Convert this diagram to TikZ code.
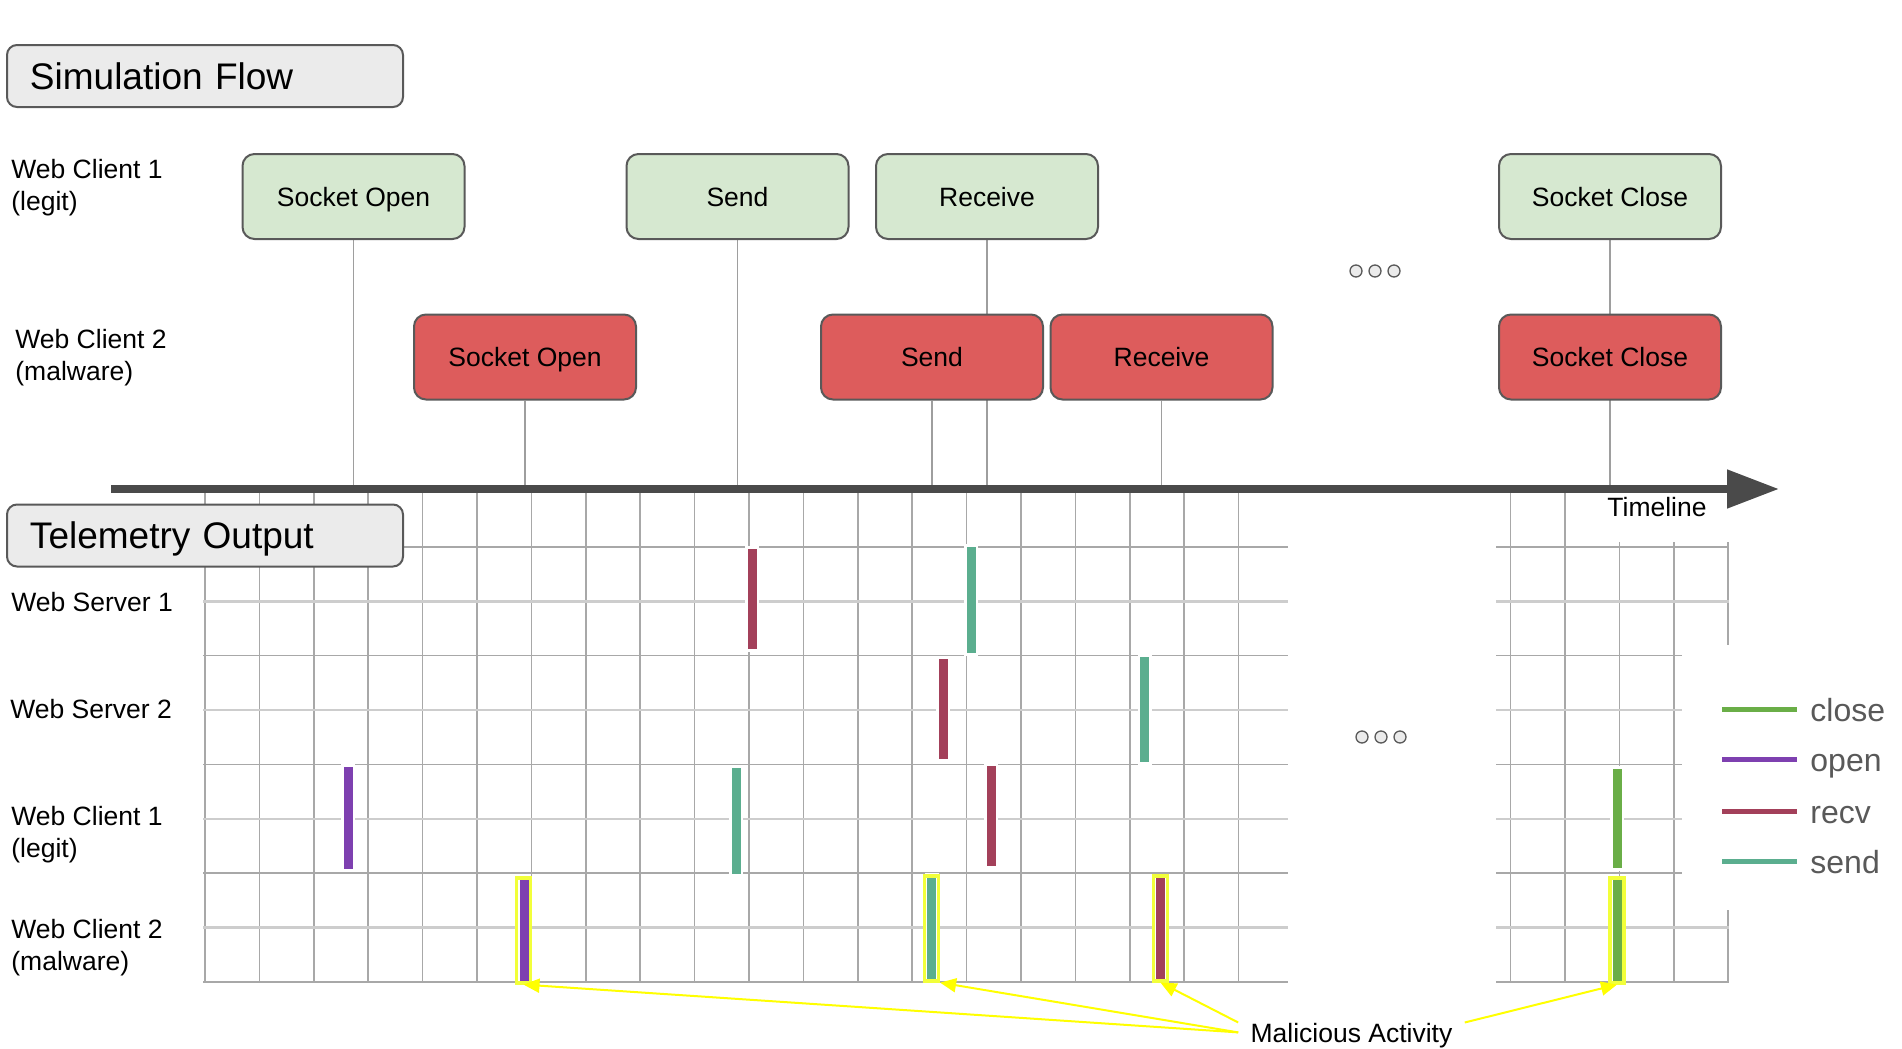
\documentclass[tikz,border=0pt]{standalone}
\usepackage{fontspec}
\setmainfont{Liberation Sans}
\usetikzlibrary{arrows.meta,backgrounds}

\definecolor{boxgreen}{HTML}{D6E8D0}
\definecolor{boxred}{HTML}{DD5C5C}
\definecolor{boxgray}{HTML}{EBEBEB}
\definecolor{edgegray}{HTML}{595959}
\definecolor{linegray}{HTML}{9E9E9E}
\definecolor{gridgray}{HTML}{A8A8A8}
\definecolor{gridlight}{HTML}{CDCDCD}
\definecolor{axisgray}{HTML}{4A4A4A}
\definecolor{evclose}{HTML}{6AAE47}
\definecolor{evopen}{HTML}{7E40B0}
\definecolor{evrecv}{HTML}{A3405A}
\definecolor{evsend}{HTML}{5BAE8F}
\definecolor{hlyellow}{HTML}{F2FF3A}
\definecolor{arrowyellow}{HTML}{FFFF00}

\tikzset{
  flowbox/.style={draw=edgegray, line width=1pt, rounded corners=6pt, minimum width=111pt,
    minimum height=42.5pt, inner sep=0pt, text depth=0pt, font=\fontsize{13.25}{16}\selectfont},
  legitbox/.style={flowbox, fill=boxgreen},
  malbox/.style={flowbox, fill=boxred},
  titlebox/.style={draw=edgegray, line width=1pt, rounded corners=5pt, fill=boxgray, anchor=west,
    text width=175pt, align=left, inner xsep=11.5pt, minimum height=31pt, text depth=0pt,
    font=\fontsize{18.5}{22}\selectfont},
  rowlabel/.style={anchor=base west, align=left, inner sep=0pt, font=\fontsize{13.25}{16}\selectfont},
  flowline/.style={draw=linegray, line width=0.75pt},
  gridline/.style={draw=gridgray, line width=0.75pt},
  gridmid/.style={draw=gridlight, line width=1.2pt},
  highlight/.style={draw=hlyellow, line width=1.6pt, minimum width=7pt, minimum height=52.5pt, inner sep=0pt},
  malarrow/.style={draw=arrowyellow, line width=1pt, -{Triangle[length=8pt,width=7pt]}},
  legendtext/.style={anchor=base west, inner sep=0pt, text=edgegray, font=\fontsize{16}{19}\selectfont},
  dots/.style={draw=edgegray, fill=boxgray, line width=0.65pt}
}

\begin{document}
\begin{tikzpicture}[x=0.5pt, y=-0.5pt]
\useasboundingbox (0,0) rectangle (1902,1049);

% simulation flow
\node[titlebox] (simflow) at (6,76) {Simulation Flow};
\node[rowlabel] (flowc1) at (11,210.5) {Web Client 1\\(legit)};
\node[rowlabel] (flowc2) at (15,380) {Web Client 2\\(malware)};

\node[legitbox] (c1open) at (353.5,196.5) {Socket Open};
\node[legitbox] (c1send) at (737.5,196.5) {Send};
\node[legitbox] (c1recv) at (987,196.5) {Receive};
\node[legitbox] (c1close) at (1610,196.5) {Socket Close};
\node[malbox] (c2open) at (525,357) {Socket Open};
\node[malbox] (c2send) at (932,357) {Send};
\node[malbox] (c2recv) at (1161.5,357) {Receive};
\node[malbox] (c2close) at (1610,357) {Socket Close};

\foreach \x in {1356,1375,1394}
  \draw[dots] (\x,271) circle[radius=3pt];

% telemetry grid
\foreach \k in {0,...,19}
  \draw[gridline] ({205+54.4*\k},493) -- ({205+54.4*\k},982);
\foreach \k in {24,25}
  \draw[gridline] ({205+54.4*\k},493) -- ({205+54.4*\k},982);
\foreach \k in {26,27}
  \draw[gridline] ({205+54.4*\k},542) -- ({205+54.4*\k},982);
\draw[gridline] (1728,542) -- (1728,645);
\draw[gridline] (1728,910) -- (1728,982);
\foreach \j/\e/\s in {0/1729/gridline, 1/1729/gridmid, 2/1682/gridline, 3/1682/gridmid, 4/1682/gridline,
    5/1682/gridmid, 6/1682/gridline, 7/1729/gridmid, 8/1729/gridline} {
  \draw[\s] (203,{547+54.35*\j}) -- (1288,{547+54.35*\j});
  \draw[\s] (1496,{547+54.35*\j}) -- (\e,{547+54.35*\j});
}

% events
\foreach \x/\ya/\yb/\c in {752/549/649/evrecv, 971/547/653/evsend, 943/659/759/evrecv,
    1144.5/657/762/evsend, 348/767/869/evopen, 736/768/874/evsend, 991/766/866/evrecv,
    1617/769/868/evclose, 524/879/981/evopen, 931.5/876/981/evsend, 1160/877/981/evrecv,
    1617/879/981/evclose} {
  \fill[white] (\x-7,\ya-3) rectangle (\x+7,\yb+3);
  \fill[\c] (\x-4.5,\ya) rectangle (\x+4.5,\yb);
}

\node[titlebox] (telemetry) at (6,535.5) {Telemetry Output};
\node[rowlabel] (srv1) at (11,611) {Web Server 1};
\node[rowlabel] (srv2) at (10,718) {Web Server 2};
\node[rowlabel] (cli1) at (11,857.5) {Web Client 1\\(legit)};
\node[rowlabel] (cli2) at (11,970) {Web Client 2\\(malware)};

\foreach \x in {1362,1381,1400}
  \draw[dots] (\x,737) circle[radius=3pt];

% timeline
\coordinate (tl) at (111,489);
\coordinate (tlend) at (1779,489);
\draw[axisgray, line width=4pt, -{Triangle[length=26pt,width=18.5pt]}] (tl) -- (tlend);
\node[anchor=base, inner sep=0pt, font=\fontsize{13.25}{16}\selectfont] (tlabel) at (1657,516) {Timeline};

\begin{scope}[on background layer]
  \foreach \b in {c1open,c2open,c1send,c2send,c1recv,c2recv,c1close,c2close}
    \draw[flowline] (\b.south) -- (\b.south |- tl);
\end{scope}

% malicious activity
\node[highlight] (hlopen) at (523.5,930.5) {};
\node[highlight] (hlsend) at (931.5,928.5) {};
\node[highlight] (hlrecv) at (1160.5,928.5) {};
\node[highlight] (hlclose) at (1617,930.5) {};
\node[anchor=base, inner xsep=6pt, inner ysep=3pt, text depth=0pt,
  font=\fontsize{13.25}{16}\selectfont] (mal) at (1351.5,1042) {Malicious Activity};
\draw[malarrow] (mal.west) -- (hlopen.south);
\draw[malarrow] (mal.west) -- (hlsend.south east);
\draw[malarrow] (mal.175) -- (hlrecv.south);
\draw[malarrow] (mal.5) -- (hlclose.south);

% legend
\foreach \y/\c/\t in {709/evclose/close, 759/evopen/open, 811/evrecv/recv, 861/evsend/send} {
  \draw[\c, line width=2.5pt] (1722,\y) -- (1797,\y);
  \node[legendtext] (leg\t) at (1810,\y+12.5) {\t};
}
\end{tikzpicture}
\end{document}
